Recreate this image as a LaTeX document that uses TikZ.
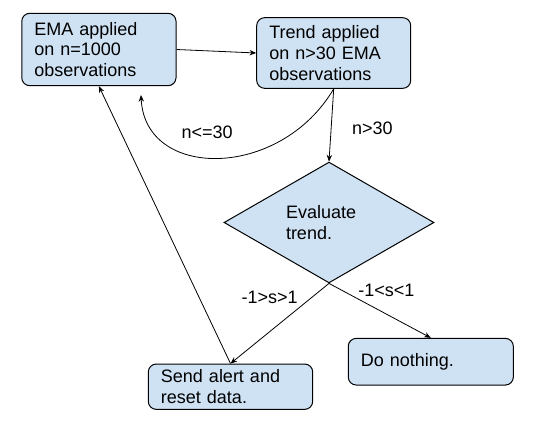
\documentclass[tikz,border=0pt]{standalone}
\usepackage{fontspec}
\setmainfont{Liberation Sans}
\usetikzlibrary{shapes.geometric,arrows.meta}

\begin{document}
\begin{tikzpicture}[x=0.75pt,y=-0.75pt,
  stepbox/.style={draw=drawColor,fill=fillColor,line width=0.75pt,rounded corners=6pt,inner xsep=9.5pt,inner ysep=0pt,align=left,font=\fontsize{13.5pt}{15.5pt}\selectfont},
  decision/.style={diamond,draw=drawColor,fill=fillColor,line width=0.75pt,inner sep=0pt,align=left,font=\fontsize{13.5pt}{16.2pt}\selectfont},
  flow/.style={draw=drawColor,line width=0.6pt,-{Stealth[length=5pt,width=4pt]}},
  cond/.style={text=drawColor,anchor=base west,inner sep=0pt,outer sep=0pt,font=\fontsize{13.5pt}{15.5pt}\selectfont}]
\definecolor{fillColor}{RGB}{207,226,243}
\definecolor{drawColor}{RGB}{0,0,0}
\path[use as bounding box,fill=white] (0,0) rectangle (536,428);

\node[stepbox,minimum width=115.7pt,minimum height=54.3pt,text width=96.7pt] (ema) at ( 98.9, 49.5) {EMA applied\\on n=1000\\observations};

\node[stepbox,minimum width=115.5pt,minimum height=53.0pt,text width=96.5pt] (trend) at (333.7, 53.0) {Trend applied\\on n>30 EMA\\observations};

\node[decision,minimum width=157.5pt,minimum height=90pt,text width=64.5pt] (eval) at (329.0,222.5) {Evaluate\\trend.};

\node[stepbox,minimum width=123.3pt,minimum height=34.0pt,text width=104.3pt] (alert) at (230.5,386.7) {Send alert and\\reset data.};

\node[stepbox,minimum width=123.8pt,minimum height=35.0pt,text width=104.8pt] (nothing) at (430.8,361.7) {Do nothing.};

\coordinate (loopend) at (141.0, 95.0);

\path[flow] (ema.east) -- (trend.west);

\path[flow] (trend.south) .. controls (280,180) and (145,180) .. (loopend);

\path[flow] (trend.south) -- (eval.north);

\path[flow] (eval.south) -- (alert.north);

\path[flow] (eval.south) -- (nothing.north);

\path[flow] (alert.north) -- (ema.south);

\node[cond] (short) at (181.7,138.3) {n<=30};

\node[cond] (long) at (352.0,134.0) {n>30};

\node[cond] (outside) at (241.7,303.3) {-1>s>1};

\node[cond] (inside) at (358.3,296.0) {-1<s<1};
\end{tikzpicture}
\end{document}
